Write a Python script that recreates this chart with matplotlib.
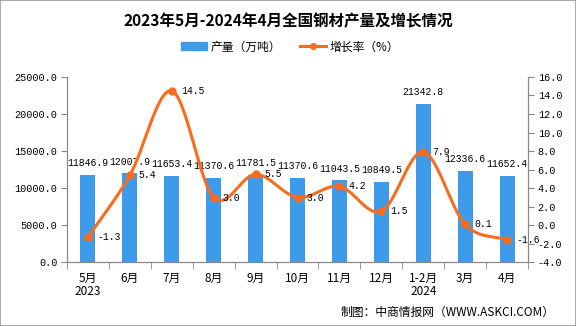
import numpy as np
import matplotlib
matplotlib.use("Agg")
import matplotlib.pyplot as plt
from matplotlib.lines import Line2D
from matplotlib.patches import Patch

plt.rcParams['font.family'] = ['Noto Sans CJK SC', 'DejaVu Sans']

categories = ["5月\n2023", "6月", "7月", "8月", "9月", "10月", "11月", "12月", "1-2月\n2024", "3月", "4月"]
output = [11846.9, 12007.9, 11653.4, 11370.6, 11781.5, 11370.6, 11043.5, 10849.5, 21342.8, 12336.6, 11652.4]
growth = [-1.3, 5.4, 14.5, 3.0, 5.5, 3.0, 4.2, 1.5, 7.9, 0.1, -1.6]
left_ticks = [0, 5000, 10000, 15000, 20000, 25000]
right_ticks = [-4, -2, 0, 2, 4, 6, 8, 10, 12, 14, 16]

BLUE = "#3d9be9"
ORANGE = "#fa6b1e"
NUMFONT = ["Liberation Mono", "DejaVu Sans Mono"]
NUMSIZE = 7.0

fig = plt.figure(figsize=(5.76, 3.26), dpi=100)
ax = fig.add_axes([0.1163, 0.195, 0.8004, 0.569])
ax2 = ax.twinx()

x = np.arange(len(categories))
ax.bar(x, output, width=0.36, color=BLUE, zorder=2)
ax.set_xlim(-0.5, len(categories) - 0.5)
ax.set_ylim(0, 25000)
ax.set_yticks(left_ticks)
ax.set_yticklabels([f"{v:.1f}" for v in left_ticks], fontsize=7.3, family=NUMFONT)
ax.set_xticks(x)
ax.set_xticklabels(categories, fontsize=8.5, linespacing=1.0)
ax.tick_params(axis='x', length=0, pad=7)
ax.set_xticks(np.arange(-0.5, len(categories), 1), minor=True)
ax.tick_params(axis='x', which='minor', length=5, color='#888888', direction='out')
ax.tick_params(axis='y', length=4, color='#888888', direction='out', pad=3)

for a in (ax, ax2):
    a.spines['top'].set_visible(False)
    for s in ['left', 'right', 'bottom']:
        a.spines[s].set_color('#888888')
        a.spines[s].set_linewidth(0.8)

for xi, v in zip(x, output):
    ax.annotate(f"{v:.1f}", (xi, v), xytext=(0, 8.5), textcoords='offset points',
                ha='center', va='center', fontsize=NUMSIZE, family=NUMFONT, zorder=5)

# Smooth curve (Catmull-Rom through the data points)
px = x.astype(float)
py = np.array(growth, dtype=float)
P = np.column_stack([px, py])
Pext = np.vstack([P[0] - (P[1] - P[0]), P, P[-1] + (P[-1] - P[-2])])
curve = []
for i in range(1, len(Pext) - 2):
    p0, p1, p2, p3 = Pext[i - 1], Pext[i], Pext[i + 1], Pext[i + 2]
    t = np.linspace(0, 1, 30)[:, None]
    seg = 0.5 * ((2 * p1) + (-p0 + p2) * t + (2 * p0 - 5 * p1 + 4 * p2 - p3) * t ** 2 + (-p0 + 3 * p1 - 3 * p2 + p3) * t ** 3)
    curve.append(seg)
curve = np.vstack(curve)
ax2.plot(curve[:, 0], curve[:, 1], color=ORANGE, lw=2.2, zorder=3, solid_capstyle='round')
ax2.plot(px, py, 'o', color=ORANGE, ms=5, zorder=4)
ax2.set_ylim(-4, 16)
ax2.set_yticks(right_ticks)
ax2.set_yticklabels([f"{v:.1f}" for v in right_ticks], fontsize=7.3, family=NUMFONT)
ax2.tick_params(axis='y', length=4, color='#888888', direction='out', pad=3)

for xi, v in zip(px, py):
    ax2.annotate(f"{v:.1f}", (xi, v), xytext=(6.5, 0), textcoords='offset points',
                 ha='left', va='center', fontsize=NUMSIZE, family=NUMFONT, zorder=5)

ax.set_zorder(1)
ax2.set_zorder(2)
ax.patch.set_visible(False)

fig.text(0.5, 0.936, "2023年5月-2024年4月全国钢材产量及增长情况", ha='center', va='center',
         fontsize=11.2, fontweight='bold')

handles = [Patch(color=BLUE), Line2D([0], [0], color=ORANGE, lw=2.2, marker='o', ms=4)]
fig.legend(handles, ["产量（万吨）", "增长率（%）"], loc='center', bbox_to_anchor=(0.504, 0.856),
           ncol=2, frameon=False, fontsize=8.5, handlelength=2.2, handletextpad=0.3, columnspacing=1.6)

fig.text(0.962, 0.043, "制图：中商情报网（WWW.ASKCI.COM）", ha='right', va='center', fontsize=8.5)

fig.patches.append(plt.Rectangle((0, 0), 1, 1, transform=fig.transFigure, fill=False,
                                 edgecolor='#999999', lw=1.2))

fig.savefig("out.png", dpi=100)
